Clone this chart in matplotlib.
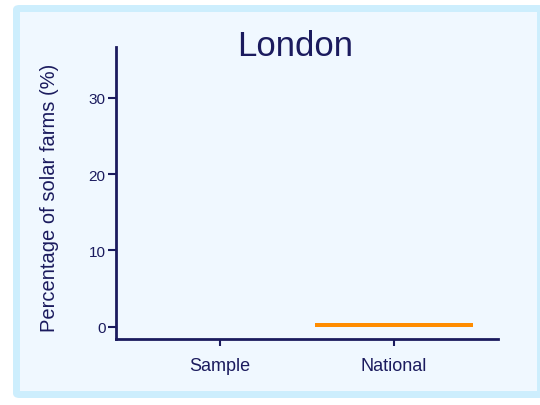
import matplotlib
matplotlib.use("Agg")
import matplotlib.pyplot as plt
from matplotlib.patches import FancyBboxPatch

# data
categories = ["Sample", "National"]
values = [0.0, 0.5]
bar_colors = ["#1f4e9c", "#ff8c00"]
yticks = [0, 10, 20, 30]

navy = "#1b1b5e"
plt.rcParams['font.family'] = ['Liberation Sans', 'DejaVu Sans']

W, H = 540, 406
fig = plt.figure(figsize=(W / 100, H / 100), dpi=100, facecolor="white")

# light blue frame with the pale panel inside
outer = FancyBboxPatch((13 / W, 1 - 399 / H), (545 - 13) / W, (399 - 6) / H,
                       boxstyle="round,pad=0,rounding_size=0.012",
                       transform=fig.transFigure, facecolor="#cdeefd",
                       edgecolor="none", zorder=-2)
inner = FancyBboxPatch((20 / W, 1 - 392 / H), (537 - 20) / W, (392 - 13) / H,
                       boxstyle="square,pad=0",
                       transform=fig.transFigure, facecolor="#f0f8ff",
                       edgecolor="none", zorder=-1)
fig.patches.extend([outer, inner])

ax = fig.add_axes([116 / W, 1 - 340 / H, (498 - 116) / W, (340 - 47.7) / H])
ax.set_facecolor("none")

x = range(len(categories))
ax.bar(x, values, width=0.91, color=bar_colors, linewidth=0)

ax.set_xlim(-0.6, 1.6)
ax.set_ylim(-1.6, 36.7)
ax.set_xticks(list(x))
ax.set_xticklabels(categories, fontsize=13, color=navy)
ax.set_yticks(yticks)
ax.set_yticklabels([str(t) for t in yticks], fontsize=11, color=navy)

for side in ["top", "right"]:
    ax.spines[side].set_visible(False)
for side in ["left", "bottom"]:
    ax.spines[side].set_color(navy)
    ax.spines[side].set_linewidth(2)

ax.tick_params(axis="x", length=5, width=1.5, color=navy, pad=8)
ax.tick_params(axis="y", length=6, width=1.5, color=navy, pad=1.5)

fig.text(295.5 / W, 1 - 47 / H, "London", fontsize=25, color=navy,
         ha="center", va="center")
fig.text(50 / W, 1 - 198 / H, "Percentage of solar farms (%)", fontsize=14.5,
         color=navy, rotation=90, ha="center", va="center")

fig.savefig("out.png", dpi=100, facecolor="white")
